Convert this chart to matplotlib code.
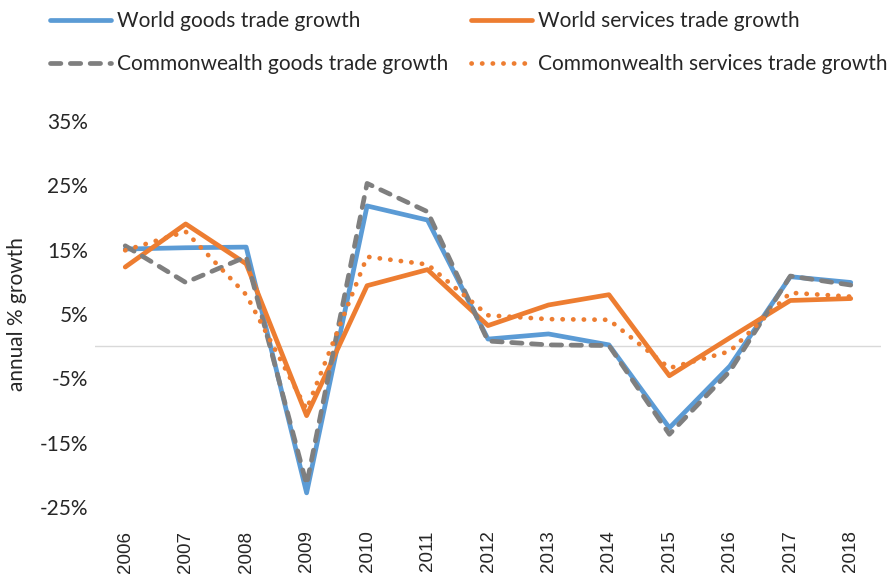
import numpy as np
import matplotlib.pyplot as plt
from matplotlib.ticker import FuncFormatter

plt.rcParams['font.family'] = ['Lato', 'DejaVu Sans']

years = ['2006', '2007', '2008', '2009', '2010', '2011', '2012',
         '2013', '2014', '2015', '2016', '2017', '2018']

# annual growth, percent
world_goods = [15.1, 15.3, 15.4, -22.8, 21.8, 19.6, 1.1, 1.9, 0.2, -12.7, -3.1, 10.8, 9.9]
world_services = [12.3, 19.0, 12.8, -10.8, 9.4, 11.9, 3.2, 6.4, 8.0, -4.6, 1.3, 7.1, 7.4]
cw_goods = [15.6, 9.9, 13.9, -21.5, 25.3, 20.9, 0.8, 0.2, 0.1, -13.7, -3.9, 10.9, 9.5]
cw_services = [14.9, 17.8, 8.0, -9.8, 13.9, 12.7, 4.8, 4.2, 4.1, -3.4, -0.8, 8.3, 7.7]

blue = '#5B9BD5'
orange = '#ED7D31'
grey = '#7F7F7F'
txt = '#262626'
fs = 15

fig = plt.figure(figsize=(8.89, 5.77), dpi=100)
ax = fig.add_axes([95 / 889, 1 - 507 / 577, (881 - 95) / 889, (507 - 121) / 577])

x = np.arange(len(years))
lw = 3.4
l1, = ax.plot(x, world_goods, color=blue, lw=lw, solid_capstyle='round',
              label='World goods trade growth', zorder=3)
l2, = ax.plot(x, world_services, color=orange, lw=lw, solid_capstyle='round',
              label='World services trade growth', zorder=3)
l3, = ax.plot(x, cw_goods, color=grey, lw=lw, dashes=(2.2, 2.0), dash_capstyle='round',
              label='Commonwealth goods trade growth', zorder=4)
l4, = ax.plot(x, cw_services, color=orange, lw=lw, dashes=(0.05, 2.2), dash_capstyle='round',
              label='Commonwealth services trade growth', zorder=4)

ax.axhline(0, color='#D9D9D9', lw=1, zorder=1)

ax.set_xlim(-0.5, len(years) - 0.5)
ax.set_ylim(-25, 35)
ax.set_yticks(np.arange(-25, 36, 10))
ax.yaxis.set_major_formatter(FuncFormatter(lambda v, p: f'{v:.0f}%'))
ax.set_xticks(x)
ax.set_xticklabels(years, rotation=90, family=['Liberation Sans'], fontsize=13.5)
ax.tick_params(axis='y', length=0, labelsize=fs, colors=txt, pad=5)
ax.tick_params(axis='x', length=0, colors=txt, pad=17)
for s in ax.spines.values():
    s.set_visible(False)

ax.set_ylabel('annual % growth', fontsize=fs, color=txt)
ax.yaxis.set_label_coords(-68 / 786, 0.5)

# two legend columns, placed separately
leg_kw = dict(loc='upper left', ncol=1, frameon=False, fontsize=fs,
              handlelength=2.95, handletextpad=0.25, labelspacing=1.12,
              borderpad=0, borderaxespad=0, labelcolor=txt)
leg1 = fig.legend(handles=[l1, l3], bbox_to_anchor=(50 / 889, 1 - 11 / 577), **leg_kw)
leg2 = fig.legend(handles=[l2, l4], bbox_to_anchor=(471 / 889, 1 - 11 / 577), **leg_kw)

fig.savefig('out.png', dpi=100)
